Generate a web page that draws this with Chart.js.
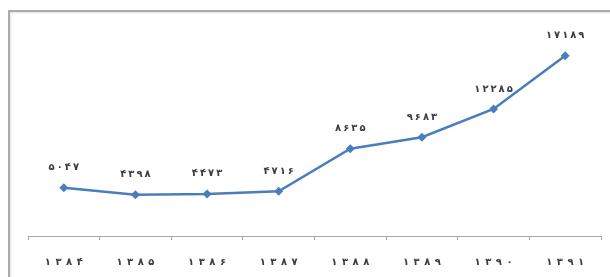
<!DOCTYPE html>
<html>
<head>
<meta charset="utf-8">
<script src="https://cdn.jsdelivr.net/npm/chart.js@4/dist/chart.umd.min.js"></script>
<style>
  html, body { margin: 0; padding: 0; background: #fff; overflow: hidden; }
  #wrap { position: relative; width: 610px; height: 277px; }
  #frame { position: absolute; left: 8px; top: 10px; width: 700px; height: 400px;
           border-left: 2px solid #ababab; border-top: 2px solid #ababab;
           box-shadow: 1px 1px 2px rgba(0,0,0,0.12) inset; }
  canvas { position: absolute; left: 0; top: 0; }
</style>
</head>
<body>
<div id="wrap">
  <div id="frame"></div>
  <canvas id="c" width="610" height="277"></canvas>
</div>
<script>
const categories = ['۱۳۸۴', '۱۳۸۵', '۱۳۸۶', '۱۳۸۷', '۱۳۸۸', '۱۳۸۹', '۱۳۹۰', '۱۳۹۱'];
const values = [5047, 4398, 4473, 4716, 8635, 9683, 12285, 17189];
const valueLabels = ['۵۰۴۷', '۴۳۹۸', '۴۴۷۳', '۴۷۱۶', '۸۶۳۵', '۹۶۸۳', '۱۲۲۸۵', '۱۷۱۸۹'];

const FONT = "'DejaVu Sans', sans-serif";

function spacedText(ctx, text, cx, cy, gap) {
  const chars = Array.from(text);
  const widths = chars.map(ch => ctx.measureText(ch).width);
  const total = widths.reduce((a, b) => a + b, 0) + gap * (chars.length - 1);
  let x = cx - total / 2;
  ctx.textAlign = 'left';
  chars.forEach((ch, i) => { ctx.fillText(ch, x, cy); x += widths[i] + gap; });
}

const labelPlugin = {
  id: 'valueLabels',
  afterDraw(chart) {
    const ctx = chart.ctx;
    ctx.save();
    ctx.font = 'bold 10px ' + FONT;
    ctx.fillStyle = '#3c3c3c';
    ctx.textBaseline = 'middle';
    // value labels above points
    const meta = chart.getDatasetMeta(0);
    meta.data.forEach((pt, i) => spacedText(ctx, valueLabels[i], pt.x, pt.y - 20, 2));
    // category labels under axis
    const xs = chart.scales.x;
    categories.forEach((c, i) => spacedText(ctx, c, xs.getPixelForValue(i), xs.top + 26, 4.5));
    ctx.restore();
  }
};

new Chart(document.getElementById('c'), {
  type: 'line',
  data: {
    labels: categories,
    datasets: [{
      data: values,
      borderColor: '#4a7ebb',
      backgroundColor: '#4a7ebb',
      borderWidth: 2.5,
      pointStyle: 'rectRot',
      pointRadius: 4.5,
      pointBorderWidth: 0,
      tension: 0
    }]
  },
  options: {
    responsive: false,
    animation: false,
    devicePixelRatio: 1,
    layout: { padding: { left: 28, right: 9, top: 20, bottom: 0 } },
    plugins: { legend: { display: false }, tooltip: { enabled: false } },
    scales: {
      x: {
        offset: true,
        grid: { offset: true, drawOnChartArea: false, drawTicks: true, tickLength: 4, color: '#a8a8a8' },
        border: { display: true, color: '#a8a8a8', width: 1 },
        ticks: { display: false },
        afterFit(scale) { scale.height = 41; }
      },
      y: {
        display: false,
        min: 600,
        max: 20470
      }
    }
  },
  plugins: [labelPlugin]
});
</script>
</body>
</html>
